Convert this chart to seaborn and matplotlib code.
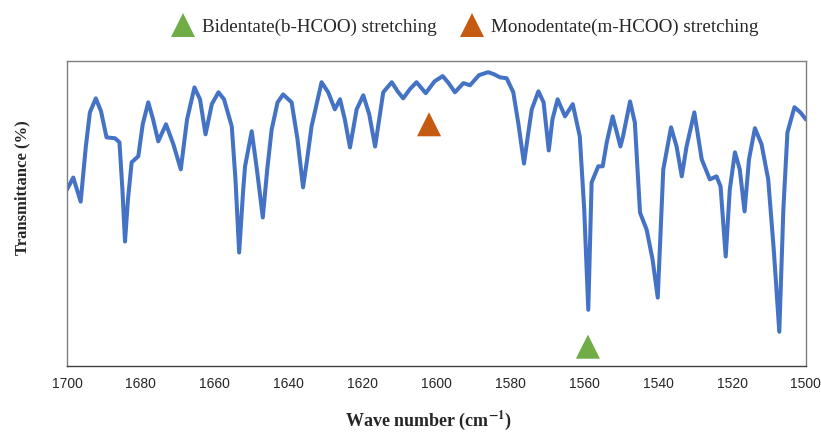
import numpy as np
import pandas as pd
import seaborn as sns
import matplotlib.pyplot as plt
from matplotlib.lines import Line2D

# spectrum (wave number, transmittance in arbitrary %)
wave_number = [
    1700.0, 1698.3, 1696.3, 1694.9, 1693.8, 1692.2, 1690.8, 1689.3, 1687.0, 1685.8,
    1685.0, 1684.3, 1683.5, 1682.5, 1680.7, 1679.5, 1678.0, 1676.7, 1675.3, 1673.2,
    1671.2, 1669.2, 1667.5, 1665.5, 1664.0, 1662.5, 1660.8, 1659.0, 1657.5, 1655.4,
    1654.4, 1653.4, 1652.3, 1651.8, 1650.0, 1648.6, 1647.0, 1645.8, 1644.6, 1643.0,
    1641.5, 1639.2, 1637.6, 1636.1, 1635.0, 1633.8, 1631.1, 1629.3, 1627.5, 1626.1,
    1624.8, 1623.4, 1621.6, 1619.8, 1618.2, 1616.6, 1614.4, 1612.1, 1610.5, 1609.0,
    1607.2, 1605.4, 1602.9, 1600.5, 1598.3, 1596.7, 1595.0, 1592.7, 1590.9, 1588.5,
    1586.0, 1584.4, 1582.8, 1581.0, 1579.2, 1577.8, 1576.3, 1575.2, 1574.2, 1572.4,
    1571.0, 1569.6, 1568.6, 1567.2, 1565.2, 1563.1, 1561.2, 1560.0, 1558.9, 1558.0,
    1556.2, 1555.0, 1553.9, 1552.3, 1550.2, 1549.5, 1547.6, 1546.3, 1544.9, 1543.1,
    1541.5, 1540.1, 1538.6, 1536.5, 1535.0, 1533.6, 1532.3, 1530.2, 1528.2, 1526.0,
    1524.2, 1523.1, 1521.7, 1520.6, 1519.2, 1517.9, 1516.6, 1515.4, 1513.8, 1512.0,
    1510.2, 1508.7, 1507.2, 1506.1, 1505.0, 1503.1, 1501.5, 1500.0,
]
transmittance = [
    57.9, 61.8, 53.9, 72.0, 83.2, 87.8, 83.6, 75.0, 74.7, 73.4,
    57.9, 40.8, 54.6, 66.8, 68.8, 79.3, 86.5, 80.9, 73.7, 79.3,
    72.7, 64.5, 80.9, 91.4, 87.5, 76.0, 85.9, 89.8, 87.5, 78.6,
    61.2, 37.2, 57.9, 65.5, 77.0, 64.5, 48.7, 64.5, 77.6, 86.5,
    89.1, 86.5, 74.3, 58.6, 67.8, 78.6, 93.1, 89.8, 84.2, 87.5,
    80.9, 71.7, 84.2, 88.8, 82.6, 72.0, 89.8, 93.1, 90.1, 87.8,
    90.8, 93.1, 89.5, 93.4, 95.1, 92.8, 89.8, 92.8, 92.1, 95.4,
    96.4, 95.7, 94.7, 94.4, 89.8, 79.3, 66.4, 76.0, 84.2, 90.1,
    86.5, 70.7, 80.9, 87.5, 81.9, 85.9, 75.3, 51.3, 18.4, 60.2,
    65.5, 65.5, 73.4, 81.9, 72.0, 75.3, 86.8, 79.9, 50.3, 44.7,
    34.9, 22.4, 64.5, 78.3, 72.0, 62.2, 72.0, 83.2, 67.8, 61.2,
    62.2, 58.9, 35.9, 57.9, 70.1, 64.5, 50.7, 67.8, 78.0, 72.7,
    61.2, 38.2, 11.2, 51.3, 76.6, 84.9, 83.2, 80.9,
]

# peak markers
peak_labels = ["Bidentate(b-HCOO) stretching", "Monodentate(m-HCOO) stretching"]
peak_wn = [1559, 1602]
peak_t = [6.3, 79.3]
peak_colors = ["#70AD47", "#C55A11"]

sns.set_style("white")
plt.rcParams["font.family"] = ["Liberation Serif", "DejaVu Serif"]
plt.rcParams["mathtext.fontset"] = "stix"

df = pd.DataFrame({"wn": wave_number, "t": transmittance})
peaks = pd.DataFrame({"wn": peak_wn, "t": peak_t, "kind": peak_labels})

fig = plt.figure(figsize=(8.21, 4.34), dpi=100)
ax = fig.add_axes([0.0816, 0.157, 0.9, 0.702])

sns.lineplot(data=df, x="wn", y="t", ax=ax, color="#4472C4", linewidth=2.9,
             sort=False, solid_joinstyle="round", solid_capstyle="round")
sns.scatterplot(data=peaks, x="wn", y="t", hue="kind", palette=peak_colors,
                marker="^", s=300, linewidth=0, ax=ax, legend=False, zorder=5)

ax.set_xlim(1700, 1500)
ax.set_ylim(0, 100)
ax.set_xticks(np.arange(1700, 1499, -20))
ax.set_yticks([])
ax.tick_params(axis="x", direction="out", length=5, width=0.8, color="#404040",
               labelsize=10, pad=3)
for lab in ax.get_xticklabels():
    lab.set_fontfamily("Liberation Sans")
for sp in ax.spines.values():
    sp.set_color("#7f7f7f")
    sp.set_linewidth(1.0)
ax.spines["bottom"].set_color("#404040")

ax.set_xlabel(r"Wave number (cm$\mathbf{^{-1}}$)", fontsize=13, fontweight="bold")
ax.xaxis.set_label_coords(0.49, -0.14)
ax.set_ylabel("Transmittance (%)", fontsize=12, fontweight="bold")
ax.yaxis.set_label_coords(-0.05, 0.584)

handles = [Line2D([], [], marker="^", linestyle="none", markersize=17,
                  markerfacecolor=c, markeredgewidth=0) for c in peak_colors]
fig.legend(handles, peak_labels, loc="center", bbox_to_anchor=(0.566, 0.938),
           ncol=2, frameon=False, fontsize=13.7, handlelength=1.2,
           handletextpad=0.4, columnspacing=1.24, borderpad=0)

fig.savefig("out.png", dpi=100)
